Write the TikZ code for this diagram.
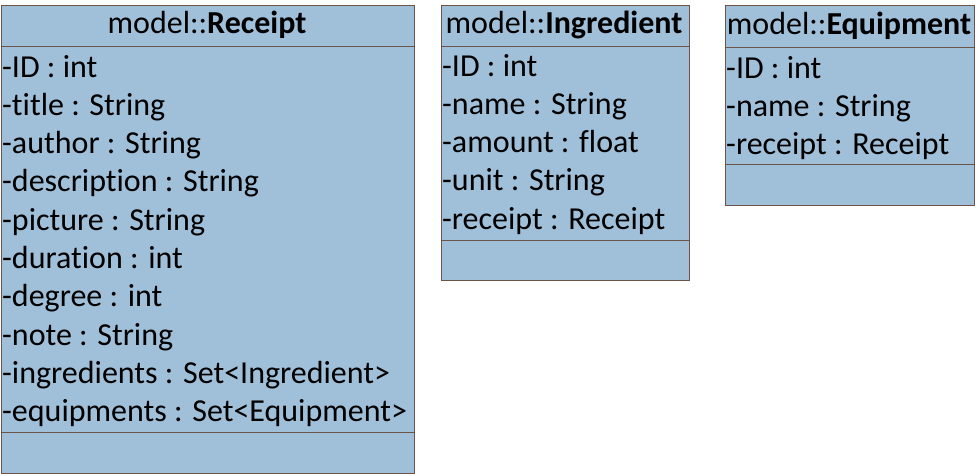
\documentclass[tikz,border=0pt]{standalone}
\usepackage{fontspec}
\setmainfont{Carlito}[Ligatures=NoCommon]
\definecolor{boxfill}{HTML}{A0BFD9}
\definecolor{boxline}{HTML}{6E5448}
\begin{document}
\begin{tikzpicture}[x=1pt,y=-1pt,
  comp/.style={draw=boxline,fill=boxfill,line width=1.2pt,inner sep=0pt,anchor=north west},
  attr/.style={anchor=base west,inner sep=0pt,font=\fontsize{32}{38}\selectfont},
  ttl/.style={anchor=base,inner sep=0pt,font=\fontsize{32}{38}\selectfont}]
\useasboundingbox (0,0) rectangle (980,475);
% Receipt
\node[comp,minimum width=413pt,minimum height=41pt] (rh) at (0.6,5) {};
\node[comp,minimum width=413pt,minimum height=386pt] (ra) at (0.6,46) {};
\node[comp,minimum width=413pt,minimum height=41pt] (ro) at (0.6,432) {};
\node[ttl] (rt) at (207,33) {model::\textbf{Receipt}};
\foreach \t [count=\i from 0] in {-ID : int,-title : String,-author : String,-description : String,-picture : String,-duration : int,-degree : int,-note : String,-ingredients : Set<Ingredient>,-equipments : Set<Equipment>}
  \node[attr] (r\i) at (2,{77+38.3*\i}) {\t};
% Ingredient
\node[comp,minimum width=248pt,minimum height=41pt] (ih) at (440.5,4.5) {};
\node[comp,minimum width=248pt,minimum height=194pt] (ia) at (440.5,45.5) {};
\node[comp,minimum width=248pt,minimum height=40pt] (io) at (440.5,239.5) {};
\node[ttl] (it) at (564,33) {model::\textbf{Ingredient}};
\foreach \t [count=\i from 0] in {-ID : int,-name : String,-amount : float,-unit : String,-receipt : Receipt}
  \node[attr] (i\i) at (442,{76+38.3*\i}) {\t};
% Equipment
\node[comp,minimum width=249pt,minimum height=42pt] (eh) at (724.5,5) {};
\node[comp,minimum width=249pt,minimum height=117pt] (ea) at (724.5,47) {};
\node[comp,minimum width=249pt,minimum height=41pt] (eo) at (724.5,164) {};
\node[ttl] (et) at (849,34) {model::\textbf{Equipment}};
\foreach \t [count=\i from 0] in {-ID : int,-name : String,-receipt : Receipt}
  \node[attr] (e\i) at (726,{78+38.3*\i}) {\t};
\end{tikzpicture}
\end{document}
